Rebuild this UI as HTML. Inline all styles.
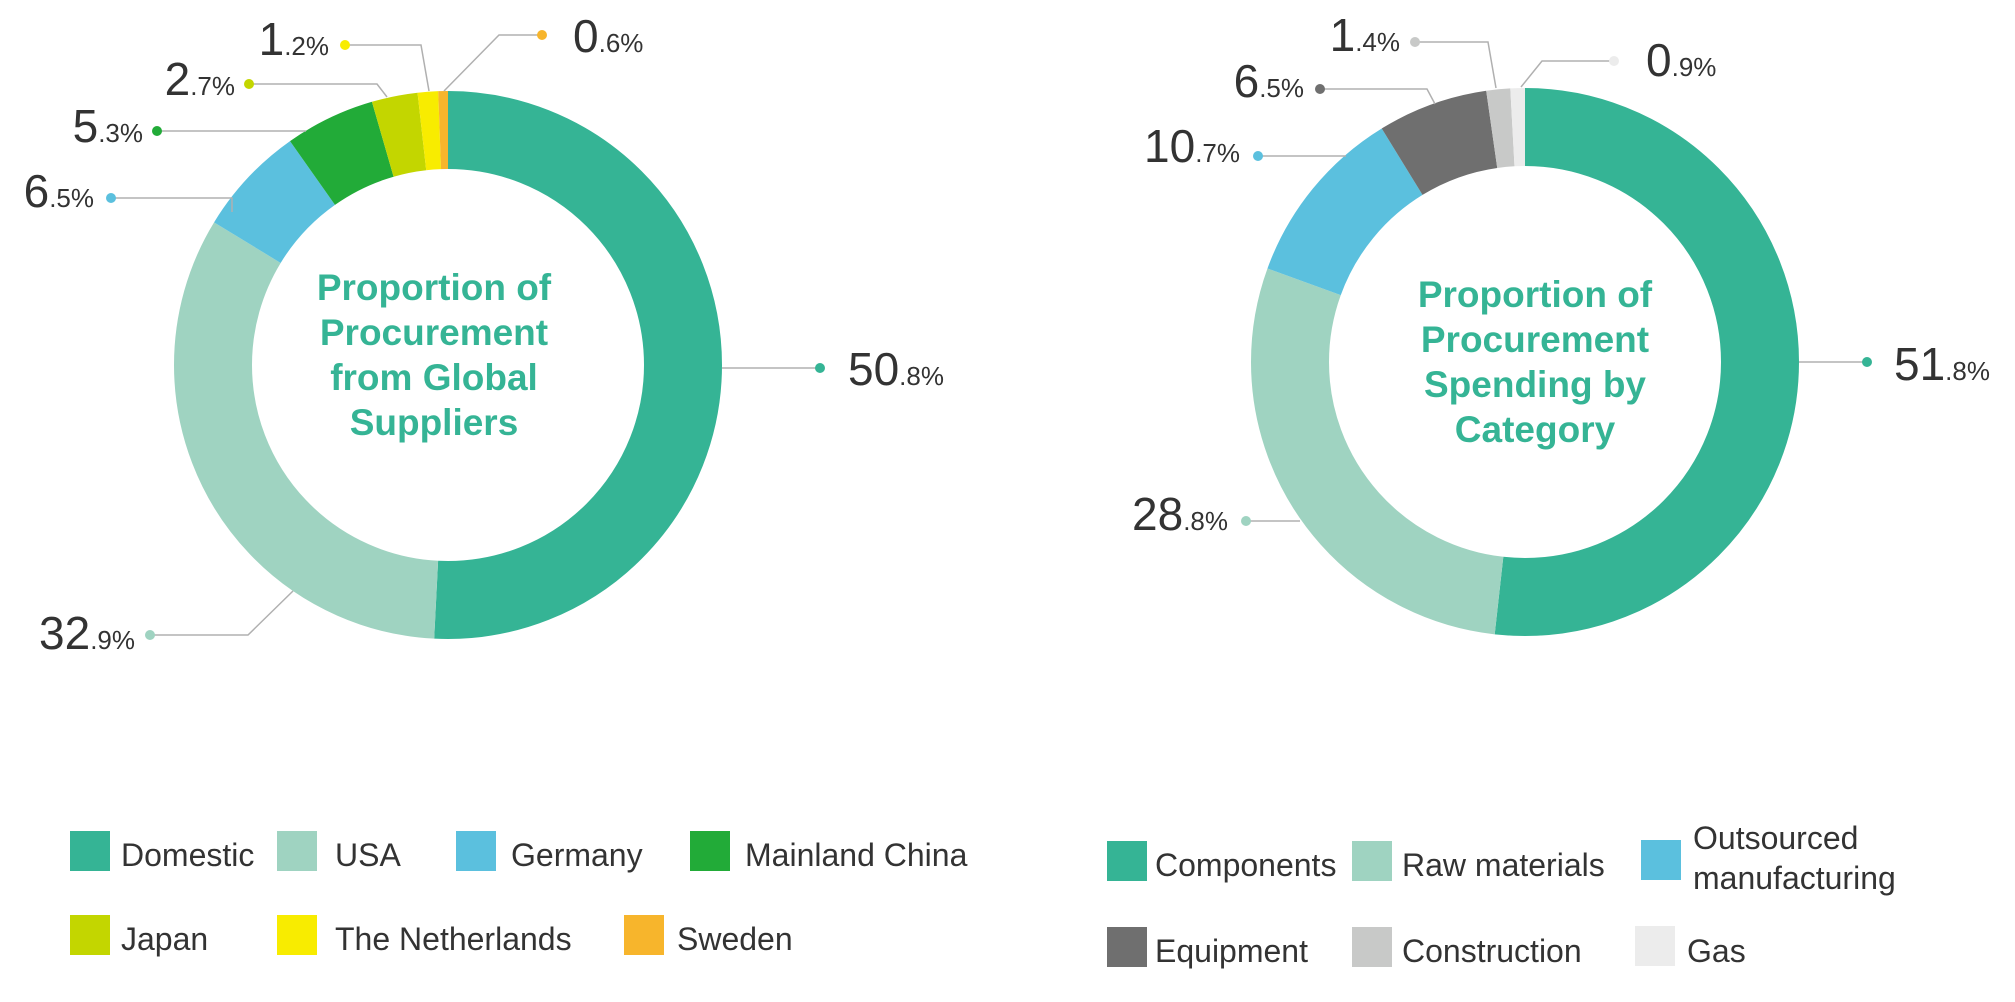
<!DOCTYPE html>
<html><head><meta charset="utf-8"><style>
html,body{margin:0;padding:0;background:#fff;}
svg{display:block;}
text{font-family:"Liberation Sans",Arial,sans-serif;}
.big{font-size:46px;fill:#333;}
.sm{font-size:26px;fill:#333;}
.ct{font-size:37px;font-weight:bold;fill:#35b495;}
.lg{font-size:32px;fill:#333;}
.ln{stroke:#b0b0b0;stroke-width:1.5;fill:none;}
</style></head><body>
<svg width="2015" height="1002" viewBox="0 0 2015 1002" xmlns="http://www.w3.org/2000/svg">
<rect width="2015" height="1002" fill="#fff"/>
<!-- Left donut -->
<g transform="rotate(-90 448 365)" fill="none" stroke-width="78">
<circle cx="448" cy="365" r="235" stroke="#35b495" stroke-dasharray="750.1 2000" stroke-dashoffset="0"/>
<circle cx="448" cy="365" r="235" stroke="#9fd3c1" stroke-dasharray="485.8 2000" stroke-dashoffset="-750.1"/>
<circle cx="448" cy="365" r="235" stroke="#5bc0de" stroke-dasharray="96.0 2000" stroke-dashoffset="-1235.9"/>
<circle cx="448" cy="365" r="235" stroke="#22ab38" stroke-dasharray="78.3 2000" stroke-dashoffset="-1331.9"/>
<circle cx="448" cy="365" r="235" stroke="#c3d600" stroke-dasharray="39.9 2000" stroke-dashoffset="-1410.2"/>
<circle cx="448" cy="365" r="235" stroke="#f8ec00" stroke-dasharray="17.7 2000" stroke-dashoffset="-1450.1"/>
<circle cx="448" cy="365" r="235" stroke="#f7b52c" stroke-dasharray="8.9 2000" stroke-dashoffset="-1467.8"/>
</g>
<text class="ct" text-anchor="middle" x="434" y="300">Proportion of</text>
<text class="ct" text-anchor="middle" x="434" y="345">Procurement</text>
<text class="ct" text-anchor="middle" x="434" y="390">from Global</text>
<text class="ct" text-anchor="middle" x="434" y="435">Suppliers</text>
<!-- left labels -->
<polyline class="ln" points="722,368 820,368"/><circle cx="820" cy="368" r="5" fill="#35b495"/>
<text x="848" y="385"><tspan class="big">50</tspan><tspan class="sm">.8%</tspan></text>
<polyline class="ln" points="293,591 248,635 150,635"/><circle cx="150" cy="635" r="5" fill="#9fd3c1"/>
<text x="135" y="649" text-anchor="end"><tspan class="big">32</tspan><tspan class="sm">.9%</tspan></text>
<polyline class="ln" points="232,212 232,198 111,198"/><circle cx="111" cy="198" r="5" fill="#5bc0de"/>
<text x="94" y="207" text-anchor="end"><tspan class="big">6</tspan><tspan class="sm">.5%</tspan></text>
<polyline class="ln" points="306,131 157,131"/><circle cx="157" cy="131" r="5" fill="#22ab38"/>
<text x="143" y="142" text-anchor="end"><tspan class="big">5</tspan><tspan class="sm">.3%</tspan></text>
<polyline class="ln" points="387,97 377,84 249,84"/><circle cx="249" cy="84" r="5" fill="#c3d600"/>
<text x="235" y="95" text-anchor="end"><tspan class="big">2</tspan><tspan class="sm">.7%</tspan></text>
<polyline class="ln" points="429,91 421,45 345,45"/><circle cx="345" cy="45" r="5" fill="#f8ec00"/>
<text x="329" y="55" text-anchor="end"><tspan class="big">1</tspan><tspan class="sm">.2%</tspan></text>
<polyline class="ln" points="444,91 499,35 542,35"/><circle cx="542" cy="35" r="5" fill="#f7b52c"/>
<text x="573" y="52"><tspan class="big">0</tspan><tspan class="sm">.6%</tspan></text>

<!-- Right donut -->
<g transform="rotate(-90 1525 362)" fill="none" stroke-width="78">
<circle cx="1525" cy="362" r="235" stroke="#35b495" stroke-dasharray="764.2 2000" stroke-dashoffset="0"/>
<circle cx="1525" cy="362" r="235" stroke="#9fd3c1" stroke-dasharray="424.9 2000" stroke-dashoffset="-764.2"/>
<circle cx="1525" cy="362" r="235" stroke="#5bc0de" stroke-dasharray="157.9 2000" stroke-dashoffset="-1189.1"/>
<circle cx="1525" cy="362" r="235" stroke="#6f6f6f" stroke-dasharray="95.9 2000" stroke-dashoffset="-1347.0"/>
<circle cx="1525" cy="362" r="235" stroke="#c8c9c8" stroke-dasharray="20.7 2000" stroke-dashoffset="-1442.9"/>
<circle cx="1525" cy="362" r="235" stroke="#ececec" stroke-dasharray="13.3 2000" stroke-dashoffset="-1463.6"/>
</g>
<text class="ct" text-anchor="middle" x="1535" y="307">Proportion of</text>
<text class="ct" text-anchor="middle" x="1535" y="352">Procurement</text>
<text class="ct" text-anchor="middle" x="1535" y="397">Spending by</text>
<text class="ct" text-anchor="middle" x="1535" y="442">Category</text>
<polyline class="ln" points="1799,362 1867,362"/><circle cx="1867" cy="362" r="5" fill="#35b495"/>
<text x="1894" y="380"><tspan class="big">51</tspan><tspan class="sm">.8%</tspan></text>
<polyline class="ln" points="1300,521 1246,521"/><circle cx="1246" cy="521" r="5" fill="#9fd3c1"/>
<text x="1228" y="530" text-anchor="end"><tspan class="big">28</tspan><tspan class="sm">.8%</tspan></text>
<polyline class="ln" points="1346,156 1258,156"/><circle cx="1258" cy="156" r="5" fill="#5bc0de"/>
<text x="1240" y="162" text-anchor="end"><tspan class="big">10</tspan><tspan class="sm">.7%</tspan></text>
<polyline class="ln" points="1435,104 1427,89 1320,89"/><circle cx="1320" cy="89" r="5" fill="#6f6f6f"/>
<text x="1304" y="97" text-anchor="end"><tspan class="big">6</tspan><tspan class="sm">.5%</tspan></text>
<polyline class="ln" points="1496,88 1488,42 1415,42"/><circle cx="1415" cy="42" r="5" fill="#c8c9c8"/>
<text x="1400" y="51" text-anchor="end"><tspan class="big">1</tspan><tspan class="sm">.4%</tspan></text>
<polyline class="ln" points="1521,87 1542,61 1614,61"/><circle cx="1614" cy="61" r="5" fill="#ececec"/>
<text x="1646" y="76"><tspan class="big">0</tspan><tspan class="sm">.9%</tspan></text>

<!-- Left legend -->
<rect x="70" y="831" width="40" height="40" fill="#35b495"/><text class="lg" x="121" y="866">Domestic</text>
<rect x="277" y="831" width="40" height="40" fill="#9fd3c1"/><text class="lg" x="335" y="866">USA</text>
<rect x="456" y="831" width="40" height="40" fill="#5bc0de"/><text class="lg" x="511" y="866">Germany</text>
<rect x="690" y="831" width="40" height="40" fill="#22ab38"/><text class="lg" x="745" y="866">Mainland China</text>
<rect x="70" y="915" width="40" height="40" fill="#c3d600"/><text class="lg" x="121" y="950">Japan</text>
<rect x="277" y="915" width="40" height="40" fill="#f8ec00"/><text class="lg" x="335" y="950">The Netherlands</text>
<rect x="624" y="915" width="40" height="40" fill="#f7b52c"/><text class="lg" x="677" y="950">Sweden</text>
<!-- Right legend -->
<rect x="1107" y="841" width="40" height="40" fill="#35b495"/><text class="lg" x="1155" y="876">Components</text>
<rect x="1352" y="841" width="40" height="40" fill="#9fd3c1"/><text class="lg" x="1402" y="876">Raw materials</text>
<rect x="1641" y="840" width="40" height="40" fill="#5bc0de"/><text class="lg" x="1693" y="849">Outsourced</text><text class="lg" x="1693" y="889">manufacturing</text>
<rect x="1107" y="927" width="40" height="40" fill="#6f6f6f"/><text class="lg" x="1155" y="962">Equipment</text>
<rect x="1352" y="927" width="40" height="40" fill="#c8c9c8"/><text class="lg" x="1402" y="962">Construction</text>
<rect x="1635" y="926" width="40" height="40" fill="#ececec"/><text class="lg" x="1687" y="962">Gas</text>
</svg>
</body></html>
